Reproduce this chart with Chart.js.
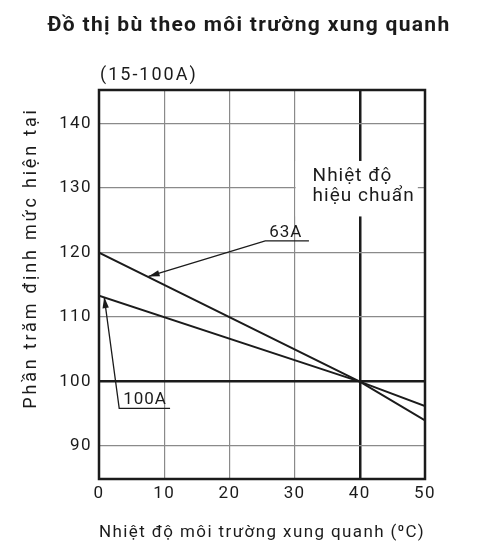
<!DOCTYPE html>
<html>
<head>
<meta charset="utf-8">
<script src="https://cdn.jsdelivr.net/npm/chart.js@4.4.1/dist/chart.umd.min.js"></script>
<style>
  html, body { margin: 0; padding: 0; background: #fff; }
</style>
</head>
<body>
<canvas id="chart" width="477" height="551"></canvas>
<script>
// values
const temps = [0, 40, 50];
const rating63A = [120, 100, 94];
const rating100A = [113.3, 100, 96.2];
const xTicks = [0, 10, 20, 30, 40, 50];
const yTicks = [90, 100, 110, 120, 130, 140];

const chartTitle = "Đồ thị bù theo môi trường xung quanh";
const rangeLabel = "(15-100A)";
const xTitle = "Nhiệt độ môi trường xung quanh (⁰C)";
const yTitle = "Phần trăm định mức hiện tại";
const calibLines = ["Nhiệt độ", "hiệu chuẩn"];
const calibTemp = 40;
const baseRating = 100;

// leader lines for the two curve labels (data units)
const notes = [
  { text: "63A", tip: [7.6, 116.3], knee: [25.5, 121.8], end: 32.2 },
  { text: "100A", tip: [0.8, 113.1], knee: [3.1, 95.85], end: 10.9 }
];

const INK = "#1b1b1b";
const GRID = "#8a8a8a";
const FONT = "Roboto, 'Noto Sans', sans-serif";

function arrowHead(ctx, fromX, fromY, toX, toY) {
  const ang = Math.atan2(toY - fromY, toX - fromX);
  const len = 11, half = 3.2;
  ctx.beginPath();
  ctx.moveTo(toX, toY);
  ctx.lineTo(toX - len * Math.cos(ang) + half * Math.sin(ang), toY - len * Math.sin(ang) - half * Math.cos(ang));
  ctx.lineTo(toX - len * Math.cos(ang) - half * Math.sin(ang), toY - len * Math.sin(ang) + half * Math.cos(ang));
  ctx.closePath();
  ctx.fill();
}

const overlay = {
  id: "overlay",
  beforeDraw(chart) {
    const ctx = chart.ctx;
    ctx.save();
    ctx.fillStyle = "#fff";
    ctx.fillRect(0, 0, chart.width, chart.height);
    ctx.restore();
    ctx.letterSpacing = "1.4px";
  },
  afterDatasetsDraw(chart) {
    const { ctx, chartArea: a, scales: { x, y } } = chart;
    ctx.save();

    // gap in the calibration line for its label
    ctx.fillStyle = "#fff";
    ctx.fillRect(x.getPixelForValue(30) + 1, y.getPixelForValue(134.2),
      x.getPixelForValue(48.9) - x.getPixelForValue(30) - 1,
      y.getPixelForValue(125.6) - y.getPixelForValue(134.2));

    // frame
    ctx.strokeStyle = INK;
    ctx.lineWidth = 2.5;
    ctx.strokeRect(a.left, a.top, a.right - a.left, a.bottom - a.top);

    // leaders with arrows
    ctx.lineWidth = 1.3;
    ctx.fillStyle = INK;
    ctx.font = "17px " + FONT;
    ctx.letterSpacing = "1px";
    ctx.textBaseline = "alphabetic";
    ctx.textAlign = "left";
    notes.forEach((n) => {
      const tx = x.getPixelForValue(n.tip[0]), ty = y.getPixelForValue(n.tip[1]);
      const kx = x.getPixelForValue(n.knee[0]), ky = y.getPixelForValue(n.knee[1]);
      const ex = x.getPixelForValue(n.end);
      ctx.beginPath();
      ctx.moveTo(ex, ky);
      ctx.lineTo(kx, ky);
      ctx.lineTo(tx, ty);
      ctx.stroke();
      arrowHead(ctx, kx, ky, tx, ty);
      ctx.fillText(n.text, kx + 4, ky - 4);
    });

    // calibration label
    const cx = x.getPixelForValue(30) + 18;
    ctx.font = "19px " + FONT;
    ctx.textBaseline = "middle";
    ctx.fillText(calibLines[0], cx, y.getPixelForValue(131.8));
    ctx.fillText(calibLines[1], cx, y.getPixelForValue(128.7));

    // titles
    ctx.textAlign = "center";
    ctx.font = "bold 21px " + FONT;
    ctx.letterSpacing = "1.3px";
    ctx.fillText(chartTitle, 249, 26);
    ctx.textAlign = "left";
    ctx.font = "18px " + FONT;
    ctx.letterSpacing = "2px";
    ctx.fillText(rangeLabel, 100, 75);

    ctx.font = "18px " + FONT;
    ctx.letterSpacing = "2.8px";
    ctx.translate(31, 258);
    ctx.rotate(-Math.PI / 2);
    ctx.textAlign = "center";
    ctx.fillText(yTitle, 0, 0);
    ctx.restore();
  }
};

const thick = (v) => (ctx) => (ctx.tick && ctx.tick.value === v ? INK : GRID);
const thickW = (v) => (ctx) => (ctx.tick && ctx.tick.value === v ? 2.5 : 1.2);

new Chart(document.getElementById("chart"), {
  type: "line",
  data: {
    datasets: [
      { label: "63A", data: temps.map((t, i) => ({ x: t, y: rating63A[i] })) },
      { label: "100A", data: temps.map((t, i) => ({ x: t, y: rating100A[i] })) }
    ]
  },
  options: {
    responsive: false,
    animation: false,
    layout: { padding: { top: 90, right: 52, left: 0, bottom: 0 } },
    elements: {
      line: { borderColor: INK, borderWidth: 2, tension: 0 },
      point: { radius: 0 }
    },
    plugins: { legend: { display: false }, tooltip: { enabled: false } },
    scales: {
      x: {
        type: "linear",
        min: 0,
        max: 50,
        afterBuildTicks: (s) => { s.ticks = xTicks.map((v) => ({ value: v })); },
        afterFit: (s) => { s.height = 72; },
        grid: { color: thick(calibTemp), lineWidth: thickW(calibTemp), drawTicks: false },
        border: { display: false },
        ticks: { color: INK, padding: 5, maxRotation: 0, font: { family: FONT, size: 17 } },
        title: { display: true, text: xTitle, color: INK, padding: { top: 0, bottom: 8 }, font: { family: FONT, size: 17 } }
      },
      y: {
        min: 84.9,
        max: 145.2,
        afterBuildTicks: (s) => { s.ticks = yTicks.map((v) => ({ value: v })); },
        afterFit: (s) => { s.width = 99; },
        grid: { color: thick(baseRating), lineWidth: thickW(baseRating), drawTicks: false },
        border: { display: false },
        ticks: { color: INK, padding: 7, font: { family: FONT, size: 17 } }
      }
    }
  },
  plugins: [overlay]
});
</script>
</body>
</html>
